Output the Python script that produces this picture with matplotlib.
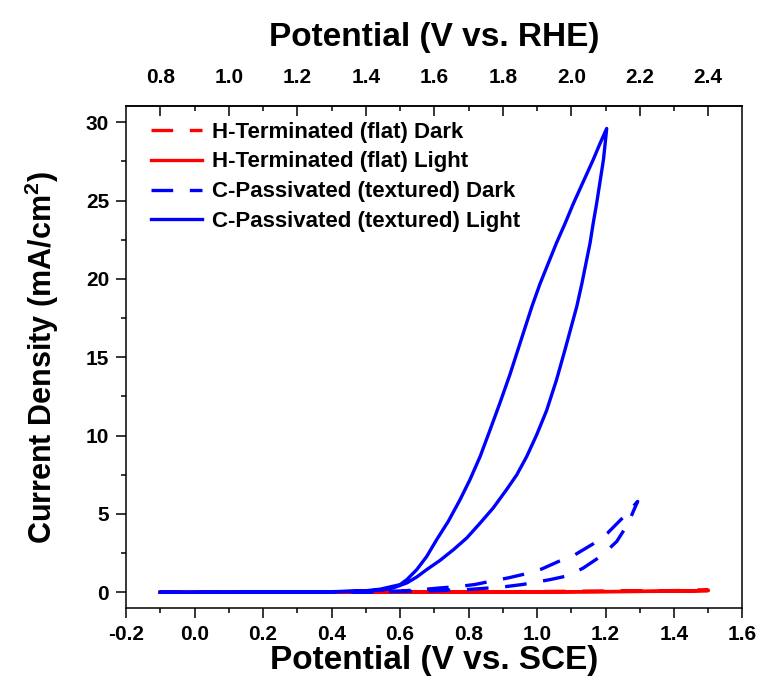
import numpy as np
import matplotlib
matplotlib.use('Agg')
import matplotlib.pyplot as plt
from matplotlib.ticker import MultipleLocator, FixedLocator

plt.rcParams['font.family'] = ['Liberation Sans', 'DejaVu Sans']
plt.rcParams['font.weight'] = 'bold'
plt.rcParams['mathtext.fontset'] = 'custom'
plt.rcParams['mathtext.rm'] = 'Liberation Sans:bold'
plt.rcParams['mathtext.bf'] = 'Liberation Sans:bold'

# offset SCE -> RHE
rhe_offset = 0.9
top_ticks = [0.8, 1.0, 1.2, 1.4, 1.6, 1.8, 2.0, 2.2, 2.4]
top_minor = [0.9, 1.1, 1.3, 1.5, 1.7, 1.9, 2.1, 2.3]

# H-Terminated (flat) Dark
h_dark_v = [-0.1, 0.2, 0.5, 0.8, 1.0, 1.2, 1.3, 1.4, 1.5, 1.4, 1.3, 1.2, 1.0, 0.8, 0.5, 0.2, -0.1]
h_dark_j = [0.0, 0.0, 0.01, 0.03, 0.05, 0.07, 0.09, 0.11, 0.14, 0.1, 0.08, 0.06, 0.04, 0.02, 0.01, 0.0, 0.0]

# H-Terminated (flat) Light
h_light_v = [-0.1, 0.2, 0.5, 0.8, 1.0, 1.2, 1.3, 1.4, 1.5, 1.4, 1.2, 1.0, 0.8, 0.5, 0.2, -0.1]
h_light_j = [0.0, 0.0, 0.01, 0.02, 0.03, 0.05, 0.06, 0.08, 0.11, 0.07, 0.04, 0.02, 0.01, 0.0, 0.0, 0.0]

# C-Passivated (textured) Dark
c_dark_v = [-0.1, 0.3, 0.5, 0.6, 0.7, 0.8, 0.861, 0.907, 0.958, 1.038, 1.091, 1.135, 1.189, 1.233, 1.267, 1.281, 1.294,
            1.259, 1.206, 1.163, 1.111, 1.064, 1.014, 0.965, 0.916, 0.868, 0.819, 0.775, 0.717, 0.667, 0.6, 0.5, 0.3, -0.1]
c_dark_j = [0.0, 0.0, 0.02, 0.05, 0.1, 0.18, 0.28, 0.36, 0.5, 0.81, 1.06, 1.55, 2.34, 3.25, 4.42, 5.16, 5.8,
            4.95, 3.78, 3.08, 2.4, 1.98, 1.49, 1.17, 0.92, 0.72, 0.5, 0.38, 0.28, 0.18, 0.08, 0.03, 0.0, 0.0]

# C-Passivated (textured) Light: forward scan then reverse scan
c_light_fwd_v = [-0.1, 0.2, 0.4, 0.5, 0.55, 0.58, 0.62, 0.649, 0.678, 0.717, 0.756, 0.795, 0.834, 0.872, 0.911,
                 0.941, 0.970, 0.999, 1.028, 1.057, 1.082, 1.116, 1.131, 1.143, 1.155, 1.164, 1.174, 1.184,
                 1.194, 1.199, 1.2035]
c_light_fwd_j = [0.0, 0.01, 0.03, 0.08, 0.15, 0.28, 0.6, 0.98, 1.45, 2.04, 2.72, 3.47, 4.42, 5.38, 6.55,
                 7.5, 8.67, 10.05, 11.6, 13.56, 15.5, 18.23, 19.7, 21.0, 22.3, 23.54, 24.8, 26.2,
                 27.6, 28.64, 29.6]
c_light_rev_v = [1.184, 1.164, 1.135, 1.106, 1.082, 1.057, 1.033, 1.009, 0.985, 0.952, 0.921, 0.892, 0.863,
                 0.834, 0.804, 0.775, 0.741, 0.707, 0.678, 0.649, 0.62, 0.60, 0.542, 0.5, 0.4, 0.2, -0.1]
c_light_rev_j = [28.64, 27.6, 26.2, 24.8, 23.54, 22.3, 21.0, 19.7, 18.23, 16.0, 13.9, 12.1, 10.37,
                 8.67, 7.18, 5.9, 4.53, 3.36, 2.29, 1.45, 0.81, 0.49, 0.2, 0.1, 0.04, 0.01, 0.0]
c_light_v = c_light_fwd_v + c_light_rev_v
c_light_j = c_light_fwd_j + c_light_rev_j

fig = plt.figure(figsize=(7.62, 6.92), dpi=100)
ax = fig.add_axes([0.1654, 0.1214, 0.809, 0.7247])

dash = (6.5, 5)
ax.plot(h_dark_v, h_dark_j, color='#ff0000', lw=2.4, dashes=dash, label='H-Terminated (flat) Dark')
ax.plot(h_light_v, h_light_j, color='#ff0000', lw=2.4, label='H-Terminated (flat) Light')
ax.plot(c_dark_v, c_dark_j, color='#0000ff', lw=2.4, dashes=dash, label='C-Passivated (textured) Dark')
ax.plot(c_light_v, c_light_j, color='#0000ff', lw=2.4, label='C-Passivated (textured) Light')

ax.set_xlim(-0.2, 1.6)
ax.set_ylim(-1, 31)
ax.xaxis.set_major_locator(MultipleLocator(0.2))
ax.xaxis.set_minor_locator(MultipleLocator(0.1))
ax.yaxis.set_major_locator(MultipleLocator(5))
ax.yaxis.set_minor_locator(MultipleLocator(2.5))
ax.xaxis.set_major_formatter(lambda v, p: f'{v:.1f}')

for s in ax.spines.values():
    s.set_linewidth(1.1)
ax.tick_params(which='both', direction='out', top=False, right=False, width=1.1, labelsize=15)
ax.tick_params(which='major', length=7.2, pad=5)
ax.tick_params(which='minor', length=3.6)

ax.set_xlabel('Potential (V vs. SCE)', fontsize=24, fontweight='bold', labelpad=1)
ax.set_ylabel('Current Density (mA/cm$^2$)', fontsize=22, fontweight='bold', labelpad=18)

top = ax.secondary_xaxis('top', functions=(lambda x: x + rhe_offset, lambda x: x - rhe_offset))
top.xaxis.set_major_locator(FixedLocator(top_ticks))
top.xaxis.set_minor_locator(FixedLocator(top_minor))
top.xaxis.set_major_formatter(lambda v, p: f'{v:.1f}')
top.tick_params(which='both', direction='in', width=1.1, labelsize=15)
top.tick_params(which='major', length=7.2, pad=14)
top.tick_params(which='minor', length=3.6)
top.spines['top'].set_linewidth(1.1)
top.set_xlabel('Potential (V vs. RHE)', fontsize=24, fontweight='bold', labelpad=16)

ax.legend(loc='upper left', bbox_to_anchor=(0.04, 0.970), frameon=False, fontsize=16,
          handlelength=2.3, handletextpad=0.45, labelspacing=0.40, borderpad=0, borderaxespad=0)

fig.savefig('out.png', dpi=100)
